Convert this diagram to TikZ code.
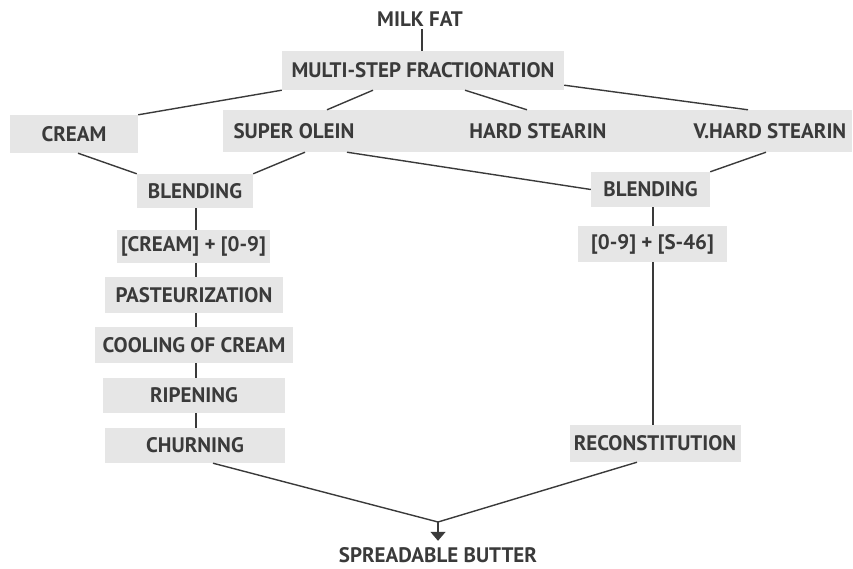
\documentclass[tikz,border=0pt]{standalone}
\usepackage{fontspec}
\setmainfont{PT Sans}
\usetikzlibrary{arrows.meta}
\definecolor{boxgray}{HTML}{E6E6E6}
\definecolor{inkgray}{HTML}{3A3A3A}
\begin{document}
\begin{tikzpicture}[x=1pt,y=-1pt,
        stage/.style={fill=boxgray,text=inkgray,font=\fontsize{21}{24}\selectfont\bfseries,inner sep=0pt,minimum height=35pt},
        plain/.style={text=inkgray,font=\fontsize{21}{24}\selectfont\bfseries,inner sep=0pt,minimum height=20pt},
        link/.style={draw=inkgray,line width=1.4pt}]
        \useasboundingbox (0,0) rectangle (853,569);
        % top
        \node [plain] (milk) at (420,19) {MILK FAT};
        \node [stage,minimum width=282pt,minimum height=39pt] (frac) at (423,70.5) {MULTI-STEP FRACTIONATION};
        % fractions
        \fill [boxgray] (223,110) rectangle (852,152);
        \node [stage,minimum width=128pt,minimum height=38pt] (cream) at (74,134) {CREAM};
        \node [plain,minimum height=42pt] (olein) at (294,131) {SUPER OLEIN};
        \node [plain,minimum height=42pt] (hard) at (538,131) {HARD STEARIN};
        \node [plain,minimum height=42pt] (vhard) at (770,131) {V.HARD STEARIN};
        % left line
        \node [stage,minimum width=116pt,minimum height=34pt] (blendL) at (195,191) {BLENDING};
        \node [stage,minimum width=153pt,minimum height=33pt] (mixL) at (193.5,246.5) {[CREAM] + [0-9]};
        \node [stage,minimum width=178pt,minimum height=36pt] (past) at (194,295) {PASTEURIZATION};
        \node [stage,minimum width=198pt,minimum height=36pt] (cool) at (194,345) {COOLING OF CREAM};
        \node [stage,minimum width=182pt] (ripe) at (194,395.5) {RIPENING};
        \node [stage,minimum width=180pt] (churn) at (195,445.5) {CHURNING};
        % right line
        \node [stage,minimum width=119pt] (blendR) at (650.5,189.5) {BLENDING};
        \node [stage,minimum width=149pt,minimum height=36pt] (mixR) at (652.5,244) {[0-9] + [S-46]};
        \node [stage,minimum width=171pt,minimum height=37pt] (recon) at (655,443.5) {RECONSTITUTION};
        % product
        \coordinate (join) at (438,522);
        \node [plain,minimum height=16pt] (spread) at (438,555) {SPREADABLE BUTTER};
        % connectors
        \draw [link] (milk.south -| 422,0) -- (frac.north -| 422,0);
        \draw [link] (frac.south west) -- (cream.north east);
        \draw [link] (frac.south -| 373,0) -- (olein.north -| 327,0);
        \draw [link] (frac.south -| 465,0) -- (hard.north -| 527,0);
        \draw [link] ([yshift=5pt]frac.south east) -- (vhard.north -| 748,0);
        \draw [link] (cream.south -| 78,0) -- (blendL.north west);
        \draw [link] (olein.south -| 305,0) -- (blendL.north east);
        \draw [link] (olein.south -| 347,0) -- (blendR.west);
        \draw [link] (vhard.south -| 766,0) -- (blendR.north east);
        \draw [link] (blendL.south -| 196,0) -- (mixL.north -| 196,0);
        \draw [link] (mixL.south -| 196,0) -- (past.north -| 196,0);
        \draw [link] (past.south -| 196,0) -- (cool.north -| 196,0);
        \draw [link] (cool.south -| 196,0) -- (ripe.north -| 196,0);
        \draw [link] (ripe.south -| 196,0) -- (churn.north -| 196,0);
        \draw [link] (blendR.south -| 653,0) -- (mixR.north -| 653,0);
        \draw [link] (mixR.south -| 653,0) -- (recon.north -| 653,0);
        \draw [link] (churn.south -| 213,0) -- (join);
        \draw [link] (recon.south -| 637,0) -- (join);
        \draw [link,-{Triangle[width=15pt,length=9pt]}] (join) -- ([yshift=6pt]spread.north);
\end{tikzpicture}
\end{document}
